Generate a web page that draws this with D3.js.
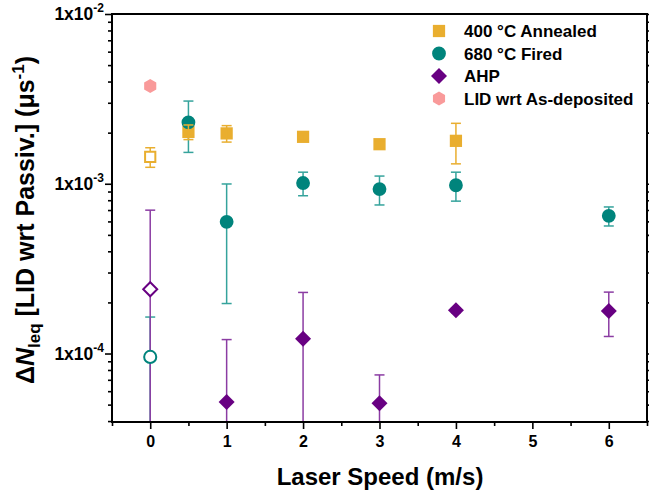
<!DOCTYPE html>
<html>
<head>
<meta charset="utf-8">
<script src="https://cdn.jsdelivr.net/npm/d3@7"></script>
<style>
body { margin: 0; background: #fff; }
svg { font-family: Arial, "Liberation Sans", sans-serif; font-weight: bold; }
</style>
</head>
<body>
<div id="main_div"></div>
<script>
// data (value, symmetric error)
var annealed_x = [0.5, 1, 2, 3, 4];
var annealed_y = [2.02e-3, 1.98e-3, 1.89e-3, 1.71e-3, 1.79e-3];
var annealed_err = [0.2e-3, 0.22e-3, 0.06e-3, 0.08e-3, 0.48e-3];
var annealed_open_x = [0];
var annealed_open_y = [1.44e-3];
var annealed_open_err = [0.19e-3];

var fired_x = [0.5, 1, 2, 3, 4, 6];
var fired_y = [2.30e-3, 5.97e-4, 1.01e-3, 9.3e-4, 9.8e-4, 6.47e-4];
var fired_err = [0.77e-3, 4.0e-4, 0.16e-3, 0.18e-3, 0.19e-3, 0.083e-3];
var fired_open_x = [0];
var fired_open_y = [9.55e-5];
var fired_open_err = [6.85e-5];

var ahp_x = [1, 2, 3, 4, 6];
var ahp_y = [5.18e-5, 1.22e-4, 5.1e-5, 1.80e-4, 1.78e-4];
var ahp_err = [6.9e-5, 1.07e-4, 2.38e-5, 0.06e-4, 0.52e-4];
var ahp_open_x = [0];
var ahp_open_y = [2.39e-4];
var ahp_open_err = [4.6e-4];

var asdep_x = [0];
var asdep_y = [3.77e-3];

var x_ticks = [0, 1, 2, 3, 4, 5, 6];
var x_minor = [-0.5, 0.5, 1.5, 2.5, 3.5, 4.5, 5.5, 6.5];
var y_ticks = [1e-4, 1e-3, 1e-2];
var y_tick_exp = ["-4", "-3", "-2"];
var legend_labels = ["400 \u00B0C Annealed", "680 \u00B0C Fired", "AHP", "LID wrt As-deposited"];

var c_orange = "#E9AE2F", c_teal = "#00847C", c_purple = "#680082", c_pink = "#F99A9A";
var c_teal_err = "#35A39C", c_purple_err = "#8B3CA3";

var W = 649, H = 495;
var L = 112, R = 647, T = 14, B = 422;
var x_scale = d3.scaleLinear().domain([-0.5, 6.5]).range([L, R]);
var y_scale = d3.scaleLog().domain([3.95e-5, 1e-2]).range([B, T]);

var svg = d3.select("#main_div").append("svg").attr("width", W).attr("height", H);

svg.append("clipPath").attr("id", "clip").append("rect")
    .attr("x", L).attr("y", T).attr("width", R - L).attr("height", B - T);
var plot = svg.append("g").attr("clip-path", "url(#clip)");

function zip(xs, ys, es) {
    return xs.map(function(x, i) { return {x: x, y: ys[i], e: es ? es[i] : 0}; });
}

function errbars(data, color) {
    var g = plot.append("g");
    data.forEach(function(d) {
        var hi = d.y + d.e;
        var lo = d.y - d.e;
        var yhi = y_scale(hi);
        var ylo = lo > 0 ? y_scale(lo) : B + 20;
        var cx = x_scale(d.x);
        g.append("line").attr("x1", cx).attr("x2", cx).attr("y1", yhi).attr("y2", ylo)
            .attr("stroke", color).attr("stroke-width", 1.5);
        g.append("line").attr("x1", cx - 5).attr("x2", cx + 5).attr("y1", yhi).attr("y2", yhi)
            .attr("stroke", color).attr("stroke-width", 1.5);
        if (lo > 0) {
            g.append("line").attr("x1", cx - 5).attr("x2", cx + 5).attr("y1", ylo).attr("y2", ylo)
                .attr("stroke", color).attr("stroke-width", 1.5);
        }
    });
}

function hexagon(r) {
    var p = [];
    for (var i = 0; i < 6; i++) {
        var a = Math.PI / 6 + i * Math.PI / 3;
        p.push([r * Math.cos(a), r * Math.sin(a)]);
    }
    return "M" + p.join("L") + "Z";
}
function diamond(r) {
    return "M0," + (-r) + "L" + r + ",0L0," + r + "L" + (-r) + ",0Z";
}
var sym_square = d3.symbol().type(d3.symbolSquare).size(150)();
var sym_circle = d3.symbol().type(d3.symbolCircle).size(150)();
var sym_diamond = diamond(8);
var sym_hex = hexagon(7);
var sq_open = d3.symbol().type(d3.symbolSquare).size(105)();
var ci_open = d3.symbol().type(d3.symbolCircle).size(115)();
var di_open = diamond(7);

function markers(parent, data, path, color, open) {
    parent.append("g").selectAll("path").data(data).enter().append("path")
        .attr("d", path)
        .attr("transform", function(d) { return "translate(" + x_scale(d.x) + "," + y_scale(d.y) + ")"; })
        .attr("fill", open ? "#fff" : color)
        .attr("stroke", open ? color : "none")
        .attr("stroke-width", open ? 2 : 0);
}

var annealed = zip(annealed_x, annealed_y, annealed_err);
var annealed_open = zip(annealed_open_x, annealed_open_y, annealed_open_err);
var fired = zip(fired_x, fired_y, fired_err);
var fired_open = zip(fired_open_x, fired_open_y, fired_open_err);
var ahp = zip(ahp_x, ahp_y, ahp_err);
var ahp_open = zip(ahp_open_x, ahp_open_y, ahp_open_err);
var asdep = zip(asdep_x, asdep_y);

errbars(fired, c_teal_err);
errbars(fired_open, c_teal_err);
errbars(annealed_open, c_orange);
markers(plot, annealed, sym_square, c_orange, false);
markers(plot, fired, sym_circle, c_teal, false);
errbars(annealed, c_orange);
errbars(ahp_open, c_purple_err);
errbars(ahp, c_purple_err);
markers(plot, annealed_open, sq_open, c_orange, true);
markers(plot, fired_open, ci_open, c_teal, true);
markers(plot, ahp_open, di_open, c_purple, true);
markers(plot, ahp, sym_diamond, c_purple, false);
markers(plot, asdep, sym_hex, c_pink, false);

// axes
var y_minor = [];
for (var k = -5; k <= -3; k++) {
    for (var m = 2; m <= 9; m++) {
        var v = m * Math.pow(10, k);
        if (v >= 3.95e-5 && v <= 1e-2) y_minor.push(v);
    }
}

function style_axis(g) {
    g.select(".domain").remove();
    g.selectAll(".tick line").attr("stroke", "#000").attr("stroke-width", 1.6);
}

var gx = svg.append("g").attr("transform", "translate(0," + B + ")")
    .call(d3.axisBottom(x_scale).tickValues(x_ticks).tickSize(7).tickPadding(7).tickFormat(d3.format("d")));
style_axis(gx);
gx.selectAll("text").attr("font-size", 16).attr("font-family", "Arial, 'Liberation Sans', sans-serif").attr("font-weight", "bold").attr("fill", "#000");
var gxm = svg.append("g").attr("transform", "translate(0," + B + ")")
    .call(d3.axisBottom(x_scale).tickValues(x_minor).tickSize(4).tickFormat(""));
style_axis(gxm);

var gy = svg.append("g").attr("transform", "translate(" + L + ",0)")
    .call(d3.axisLeft(y_scale).tickValues(y_ticks).tickSize(7).tickFormat(""));
style_axis(gy);
var gym = svg.append("g").attr("transform", "translate(" + L + ",0)")
    .call(d3.axisLeft(y_scale).tickValues(y_minor).tickSize(4).tickFormat(""));
style_axis(gym);
var gyr = svg.append("g").attr("transform", "translate(" + R + ",0)")
    .call(d3.axisRight(y_scale).tickValues(y_ticks).tickSize(7).tickFormat(""));
style_axis(gyr);
var gyrm = svg.append("g").attr("transform", "translate(" + R + ",0)")
    .call(d3.axisRight(y_scale).tickValues(y_minor).tickSize(4).tickFormat(""));
style_axis(gyrm);

// y tick labels 1x10^n
var ylab = svg.append("g").selectAll("text").data(y_ticks).enter().append("text")
    .attr("x", L - 8)
    .attr("y", function(d) { return y_scale(d) + 6; })
    .attr("text-anchor", "end")
    .attr("font-size", 17.5);
ylab.append("tspan").text("1x10");
ylab.append("tspan").attr("font-size", 12).attr("dy", -8).text(function(d, i) { return y_tick_exp[i]; });

// frame
svg.append("rect").attr("x", L).attr("y", T).attr("width", R - L).attr("height", B - T)
    .attr("fill", "none").attr("stroke", "#000").attr("stroke-width", 2);

// axis titles
svg.append("text").attr("x", 380).attr("y", 485).attr("text-anchor", "middle")
    .attr("font-size", 24).text("Laser Speed (m/s)");

var yt = svg.append("text").attr("transform", "translate(34," + 220 + ") rotate(-90)")
    .attr("text-anchor", "middle").attr("font-size", 25);
yt.append("tspan").text("\u0394");
yt.append("tspan").attr("font-style", "italic").text("N");
yt.append("tspan").attr("font-size", 17).attr("dy", 6).text("leq");
yt.append("tspan").attr("dy", -6).text(" [LID wrt Passiv.] (\u03BCs");
yt.append("tspan").attr("font-size", 17).attr("dy", -10).text("-1");
yt.append("tspan").attr("dy", 10).text(")");

// legend
var leg_x = 439, leg_y0 = 31, leg_dy = 22.5;
var leg_syms = [sym_square, sym_circle, sym_diamond, sym_hex];
var leg_cols = [c_orange, c_teal, c_purple, c_pink];
var leg = svg.append("g").selectAll("g").data(legend_labels).enter().append("g")
    .attr("transform", function(d, i) { return "translate(" + leg_x + "," + (leg_y0 + i * leg_dy) + ")"; });
leg.append("path").attr("d", function(d, i) { return leg_syms[i]; })
    .attr("fill", function(d, i) { return leg_cols[i]; });
leg.append("text").attr("x", 25).attr("y", 6).attr("font-size", 17).text(function(d) { return d; });
</script>
</body>
</html>
